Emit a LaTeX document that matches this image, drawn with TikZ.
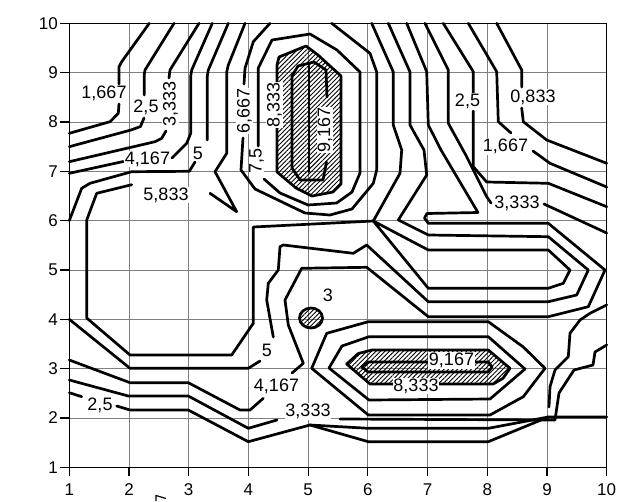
\documentclass[tikz,border=0pt]{standalone}
\usepackage{fontspec}
\setmainfont{Liberation Sans}
\usetikzlibrary{patterns.meta}
\begin{document}
\begin{tikzpicture}[x=1pt,y=-1pt,
  contour/.style={line width=2.7pt,line join=round,line cap=round},
  gridl/.style={line width=0.8pt,black!50},
  lab/.style={font=\fontsize{18}{18}\selectfont,fill=white,inner sep=0.6pt},
  axl/.style={font=\fontsize{17}{17}\selectfont,inner sep=0pt},
  hatch/.style={pattern={Lines[angle=45,distance=3.2pt,line width=0.9pt]},pattern color=black}]
\useasboundingbox (0,0) rectangle (621,501);
\fill[white] (0,0) rectangle (621,501);
% grid
\foreach \i in {2,...,9} {\draw[gridl] ({69.3+(\i-1)*59.71},23.3) -- ({69.3+(\i-1)*59.71},467.3);}
\foreach \j in {2,...,9} {\draw[gridl] (69.3,{467.3-(\j-1)*49.33}) -- (606.7,{467.3-(\j-1)*49.33});}
\draw[line width=1.3pt] (69.3,23.3) rectangle (606.7,467.3);
\foreach \j in {1,...,10} {\pgfmathsetmacro\yy{467.3-(\j-1)*49.33}
  \draw[line width=1.1pt] (60,\yy) -- (69.3,\yy);
  \node[axl,anchor=east] (ya\j) at (58,\yy) {\j};}
\foreach \i in {1,...,10} {\pgfmathsetmacro\xx{69.3+(\i-1)*59.71}
  \draw[line width=1.1pt] (\xx,467.3) -- (\xx,476);
  \node[axl] (xa\i) at (\xx,490) {\i};}
\draw[line width=1.2pt] (156,495) -- (156,501) (156,495.5) -- (166,498.5);
% hatched peaks
\draw[contour,hatch] (277,65) -- (279,57) -- (306,46) -- (318,55) -- (341,76) -- (341,184) -- (333,192) -- (312,196) -- (296,188) -- (277,172) -- cycle;
\draw[contour] (327,97) -- (326,70) -- (314,62) -- (298,66) -- (292,76) -- (292,168) -- (300,180) -- (323,180) -- (326.5,162);
\draw[contour] (309,66) -- (309,172);
\draw[contour,hatch] (346.7,364) -- (358.3,353.5) -- (371.7,350) -- (488.3,350) -- (510,368.3) -- (503,378.3) -- (493.3,384) -- (370,384) -- cycle;
\draw[contour] (362,367) -- (368,362) -- (488.3,362) -- (492,367) -- (488.3,372) -- (368,372) -- cycle;
\draw[contour,hatch] (311,318) ellipse [x radius=11.5,y radius=10];
% bottom peak outer loops
\draw[contour] (311.7,368.3) -- (326.7,333.3) -- (368.3,321.7) -- (488.3,321.7) -- (523.3,347) -- (545,368.3) -- (523.3,396.7) -- (490,415) -- (368.3,415) -- cycle;
\draw[contour] (329,368) -- (342,346) -- (369,336.7) -- (488.3,336.7) -- (525,369) -- (490,399) -- (369,400) -- cycle;
% top-left family
\draw[contour] (149.3,23.3) -- (121.7,61.7) -- (119,66.7) -- (119,84);
\draw[contour] (119,104) -- (118.3,113.3) -- (110,121.7) -- (69.3,133.3);
\draw[contour] (174,23.3) -- (145,70) -- (144.3,74) -- (144.3,95);
\draw[contour] (144,118) -- (140.5,126.5) -- (131,130) -- (69.3,146.7);
\draw[contour] (199,23.3) -- (170,70) -- (169,78);
\draw[contour] (166,131) -- (161.7,138.3) -- (155,141.7) -- (69.3,161.7);
\draw[contour] (212.3,23.3) -- (191.7,70) -- (190.7,76) -- (190.7,133.3) -- (186.7,143.3) -- (172,158);
\draw[contour] (123.3,161.5) -- (69.3,173.3);
\draw[contour] (228.3,23.3) -- (208.3,70) -- (207.3,76) -- (207.3,140);
\draw[contour] (195,162) -- (189.3,171.3) -- (131.7,171.7) -- (90,183.3) -- (81.7,188.3) -- (69.3,220.6);
% 5.833
\draw[contour] (245,23.3) -- (228.3,65) -- (226.7,72) -- (226.7,153.3) -- (215,171.7) -- (236.7,211.7) -- (210,193.3);
\draw[contour] (131.7,184.7) -- (96.7,193.3) -- (86.7,220) -- (86.7,318) -- (130,355) -- (231.7,355) -- (253.3,323.3) -- (253.3,227) -- (373.3,221) -- (400,173.3) -- (401.7,150) -- (393.3,125) -- (393.3,72) -- (371.7,23.3);
% 6.667
\draw[contour] (270,23.3) -- (253.3,41.7) -- (245,68.3) -- (244,84);
\draw[contour] (243,138) -- (241,170) -- (255,189) -- (305,213) -- (330,215) -- (352,209) -- (373.3,183.3) -- (376.7,170) -- (376.7,72) -- (370,53.3) -- (331.7,23.3);
% 7.5
\draw[contour] (258.3,146) -- (258.3,68) -- (272,40) -- (310,34) -- (337,50) -- (360,72) -- (360,173) -- (352,192) -- (336.7,203) -- (308,205) -- (280,193) -- (264,179);
% tongue T1
\draw[contour] (373.3,221) -- (428.3,250) -- (548.3,250) -- (570,270) -- (563.3,283.3) -- (548.3,288.3) -- (428.3,288.3) -- cycle;
% 5
\draw[contour] (388.3,23.3) -- (410,72) -- (410,125) -- (424,150) -- (426.7,175) -- (398.3,220) -- (428.3,235) -- (548.3,236.7) -- (588.3,270) -- (576.7,295) -- (548.3,301.7) -- (428.3,301.7) -- (366.7,245) -- (353.3,253.3) -- (283.3,245) -- (280,246.7) -- (278.3,270) -- (268.3,283.3) -- (266.7,300) -- (273.3,337);
\draw[contour] (260,361) -- (248.3,368.3) -- (130,368.3) -- (69.3,319.3);
% 4.167
\draw[contour] (406.7,23.3) -- (426.7,71.7) -- (428.3,125) -- (441,150) -- (478,212.5) -- (427,213.5) -- (424.5,218) -- (428.3,223.3) -- (548.3,223.3) -- (605,270) -- (588.3,306.7) -- (548.3,316.7) -- (428.3,316.7) -- (366.7,267.3) -- (301.7,268.3) -- (285,300) -- (288.3,325) -- (303.3,363.3) -- (292,373);
\draw[contour] (263.3,398.3) -- (250,410) -- (240,410) -- (188.3,382.7) -- (130,382.7) -- (69.3,360);
% right top family
\draw[contour] (425,23.3) -- (448.3,70) -- (448.3,123.3) -- (466.7,156.7) -- (486.7,196.7) -- (491,203);
\draw[contour] (544,204) -- (606.7,233);
\draw[contour] (443.3,23.3) -- (473.3,71.7) -- (473.3,93);
\draw[contour] (473.3,111) -- (473.3,166.7) -- (486.7,182) -- (548.3,183.3) -- (606.7,206.7);
\draw[contour] (468.3,23.3) -- (496.7,71.7) -- (498.3,121.7) -- (511,133);
\draw[contour] (533,151) -- (550,163.3) -- (606.7,187);
\draw[contour] (496.7,23.3) -- (521.7,70) -- (521.7,87);
\draw[contour] (521.7,108) -- (523.3,121.7) -- (546.7,140) -- (606.7,163.3);
% bottom family
\draw[contour] (69.3,380) -- (128.3,396) -- (188.3,396) -- (248.3,428.3) -- (277,420);
\draw[contour] (340,419) -- (555,420) -- (559,393) -- (574,370) -- (593,365) -- (595,352) -- (606.7,345);
\draw[contour] (69.3,392.7) -- (81.7,396.7);
\draw[contour] (116.7,406) -- (130,410) -- (188.3,410) -- (248.3,441.7) -- (310,425) -- (368.3,441.7) -- (488.3,441.7) -- (548.3,417) -- (606.7,417);
\draw[contour] (310,425) -- (368.3,428.3) -- (488.3,428.3) -- (548.3,417);
\draw[contour] (606.7,305) -- (590,313.3) -- (580,320) -- (570,333.3) -- (568.3,356.7) -- (555,370) -- (550,386.7) -- (549,407);
% labels
\node[lab] (l1) at (104,93) {1,667};
\node[lab] (l2) at (146,107) {2,5};
\node[lab,rotate=90] (l3) at (170.5,104) {3,333};
\node[lab] (l4) at (147.5,159) {4,167};
\node[lab] (l5) at (198,153) {5};
\node[lab] (l6) at (166,195) {5,833};
\node[lab,rotate=90] (l7) at (244.5,111) {6,667};
\node[lab,rotate=90] (l8) at (256.5,161) {7,5};
\node[lab,rotate=90] (l9) at (274.5,105) {8,333};
\node[lab,rotate=90] (l10) at (325,130) {9,167};
\node[lab] (l11) at (467.5,101.5) {2,5};
\node[lab] (l12) at (533,97) {0,833};
\node[lab] (l13) at (505.5,146.5) {1,667};
\node[lab] (l14) at (517,203.5) {3,333};
\node[lab] (l15) at (328,295) {3};
\node[lab] (l16) at (267,350) {5};
\node[lab] (l17) at (276.5,386) {4,167};
\node[lab] (l18) at (308,411.5) {3,333};
\node[lab] (l19) at (100,405.5) {2,5};
\node[lab] (l20) at (451.5,360.5) {9,167};
\node[lab] (l21) at (416,386) {8,333};
\end{tikzpicture}
\end{document}
